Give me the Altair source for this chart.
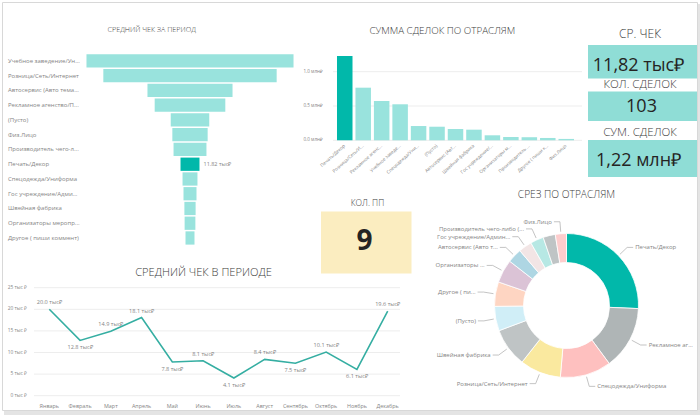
import math
import altair as alt
import pandas as pd

# ---------------- data ----------------
SEL = "Печать/Декор"

funnel_cats = ["Учебное заведение/Университет", "Розница/Сеть/Интернет", "Автосервис (Авто тематика)",
               "Рекламное агенство/Полиграфия", "(Пусто)", "Физ.Лицо", "Производитель чего-либо (товары)",
               "Печать/Декор", "Спецодежда/Униформа", "Гос учреждение/Администрация", "Швейная фабрика",
               "Организаторы мероприятий", "Другое ( пиши коммент)"]
funnel_vals = [129, 108, 53, 44, 24, 22, 20.5, 11.82, 9.3, 8.1, 7.0, 6.7, 5.6]  # тыс ₽

bar_cats = ["Печать/Декор", "Розница/Сеть/Интернет", "Рекламное агенство/Полиграфия",
            "Учебное заведение/Университет", "Спецодежда/Униформа", "(Пусто)", "Автосервис (Авто тематика)",
            "Швейная фабрика", "Гос учреждение/Администрация", "Организаторы мероприятий",
            "Производитель чего-либо (товары)", "Другое ( пиши коммент)", "Физ.Лицо"]
bar_vals = [1.229, 0.767, 0.573, 0.525, 0.208, 0.198, 0.165, 0.155, 0.073, 0.048, 0.045, 0.034, 0.02]  # млн ₽
bar_ticks = [0.0, 0.5, 1.0]

months = ["Январь", "Февраль", "Март", "Апрель", "Май", "Июнь", "Июль", "Август",
          "Сентябрь", "Октябрь", "Ноябрь", "Декабрь"]
month_vals = [20.0, 12.8, 14.9, 18.1, 7.8, 8.1, 4.1, 8.4, 7.5, 10.1, 6.1, 19.6]  # тыс ₽
line_ticks = [0, 5, 10, 15, 20, 25]

donut_cats = ["Печать/Декор", "Рекламное агенство/Полиграфия", "Спецодежда/Униформа", "Розница/Сеть/Интернет",
              "Швейная фабрика", "(Пусто)", "Другое ( пиши коммент)", "Организаторы мероприятий",
              "Автосервис (Авто тематика)", "Гос учреждение/Администрация", "Производитель чего-либо (товары)",
              "Учебное заведение/Университет", "Физ.Лицо"]
donut_labels = ["Печать/Декор", "Рекламное агенс...", "Спецодежда/Униформа", "Розница/Сеть/Интернет",
                "Швейная фабрика", "(Пусто)", "Другое ( пи...", "Организаторы ...", "Автосервис (Авто т...",
                "Гос учреждение/Админ...", "Производитель чего-либо (...", "", "Физ.Лицо"]
donut_vals = [103, 57, 46, 37, 35, 22, 22, 21, 13, 12, 12, 11, 10]
donut_colors = ["#01B8AA", "#AFB5B6", "#FEC0BF", "#FAE99F", "#BFC4C5", "#D0EEF7", "#FED5C2",
                "#DBC3D6", "#AED6E3", "#F2E5E5", "#B7E8E4", "#BFC4C5", "#FDCDCD"]

card_titles = ["СР. ЧЕК", "КОЛ. СДЕЛОК", "СУМ. СДЕЛОК"]
card_values = ["11,82 тыс₽", "103", "1,22 млн₽"]
pp_title = "КОЛ. ПП"
pp_value = "9"

titles = ["СРЕДНИЙ ЧЕК ЗА ПЕРИОД", "СУММА СДЕЛОК ПО ОТРАСЛЯМ", "СРЕДНИЙ ЧЕК В ПЕРИОДЕ", "СРЕЗ ПО ОТРАСЛЯМ"]

# ---------------- style ----------------
FONT = "Open Sans"
TEAL = "#01B8AA"
TEAL_FADED = "#99E3DD"
CARD_TEAL = "#8FDDD6"
CARD_YELLOW = "#FBEDC0"
LABEL_GRAY = "#858585"
TITLE_GRAY = "#3c3c3c"
GRID = "#EDEDED"
ONE = alt.Data(values=[{}])


def text_at(text, x, y, size, color=TITLE_GRAY, align="center", weight=300):
    return alt.Chart(ONE).mark_text(text=text, fontSize=size, font=FONT, color=color, align=align,
                                    baseline="middle", fontWeight=weight).encode(
        x=alt.value(x), y=alt.value(y))


def box(x1, y1, x2, y2, fill, stroke=None):
    kw = dict(fill=fill)
    if stroke:
        kw.update(stroke=stroke, strokeWidth=1)
    return alt.Chart(ONE).mark_rect(**kw).encode(
        x=alt.value(x1), x2=alt.value(x2), y=alt.value(y1), y2=alt.value(y2))


# ---------------- frame ----------------
frame = [box(4, 4, 700, 415, "#E4E4E4"), box(2.5, 2.5, 697.5, 410.5, "#FFFFFF", "#D8D8D8")]

# ---------------- funnel ----------------
funnel_df = pd.DataFrame({"cat": funnel_cats, "v": funnel_vals})
fx = alt.Scale(domain=[-70, 70], range=[77.65, 302.35])
fy = alt.Scale(domain=funnel_cats, range=[53.6, 245.35], paddingInner=0.1, paddingOuter=0.05)
fbase = alt.Chart(funnel_df).transform_calculate(lo="-datum.v/2", hi="datum.v/2")
f_bars = fbase.mark_bar().encode(
    x=alt.X("lo:Q", scale=fx, axis=None), x2="hi:Q",
    y=alt.Y("cat:N", scale=fy, axis=None),
    color=alt.condition(alt.datum.cat == SEL, alt.value(TEAL), alt.value(TEAL_FADED)))
f_lab = fbase.mark_text(align="left", baseline="middle", fontSize=6, font=FONT, color=LABEL_GRAY,
                        limit=73, ellipsis="...").encode(
    x=alt.value(8), y=alt.Y("cat:N", scale=fy, axis=None), text="cat:N")
f_val = fbase.transform_filter(alt.datum.cat == SEL).transform_calculate(
    t="format(datum.v, '.2f') + ' тыс₽'").mark_text(
    align="left", baseline="middle", dx=4, fontSize=5.5, font=FONT, color=LABEL_GRAY).encode(
    x=alt.X("hi:Q", scale=fx, axis=None), y=alt.Y("cat:N", scale=fy, axis=None), text="t:N")
funnel = alt.layer(f_bars, f_lab, f_val)

# ---------------- bar chart ----------------
bar_df = pd.DataFrame({"cat": bar_cats, "v": bar_vals})
btick_df = pd.DataFrame({"tick": bar_ticks})
bx = alt.Scale(domain=bar_cats, range=[335.15, 575.85], paddingInner=0.16, paddingOuter=0.1)
by = alt.Scale(domain=[0, 1.3], range=[140.3, 51.12])
b_grid = alt.Chart(btick_df).mark_rule(color=GRID, strokeWidth=1).encode(
    y=alt.Y("tick:Q", scale=by, axis=None), x=alt.value(333), x2=alt.value(582))
b_tlab = alt.Chart(btick_df).transform_calculate(t="format(datum.tick, '.1f') + ' млн₽'").mark_text(
    align="right", baseline="middle", fontSize=4.6, font=FONT, color=LABEL_GRAY).encode(
    y=alt.Y("tick:Q", scale=by, axis=None), x=alt.value(323), text="t:N")
b_bars = alt.Chart(bar_df).mark_bar().encode(
    x=alt.X("cat:N", scale=bx, axis=None), y=alt.Y("v:Q", scale=by, axis=None),
    color=alt.condition(alt.datum.cat == SEL, alt.value(TEAL), alt.value(TEAL_FADED)))
b_xlab = alt.Chart(bar_df).mark_text(align="right", baseline="middle", angle=318, fontSize=4.6,
                                     font=FONT, color=LABEL_GRAY, limit=42, ellipsis="...").encode(
    x=alt.X("cat:N", scale=bx, axis=None), y=alt.value(145.5), text="cat:N")
bars = alt.layer(b_grid, b_tlab, b_bars, b_xlab)

# ---------------- line chart ----------------
line_df = pd.DataFrame({"idx": list(range(12)), "month": months, "v": month_vals})
ltick_df = pd.DataFrame({"tick": line_ticks})
lx = alt.Scale(type="point", domain=months, range=[49.3, 387.7], padding=0)
ly = alt.Scale(domain=[0, 25], range=[395.7, 287.7])
l_grid = alt.Chart(ltick_df).mark_rule(color=GRID, strokeWidth=1).encode(
    y=alt.Y("tick:Q", scale=ly, axis=None), x=alt.value(34), x2=alt.value(400))
l_tlab = alt.Chart(ltick_df).transform_calculate(t="datum.tick + ' тыс ₽'").mark_text(
    align="right", baseline="middle", fontSize=4.8, font=FONT, color=LABEL_GRAY).encode(
    y=alt.Y("tick:Q", scale=ly, axis=None), x=alt.value(27), text="t:N")
l_mlab = alt.Chart(line_df).mark_text(align="center", baseline="middle", fontSize=5.4, font=FONT,
                                      color=LABEL_GRAY).encode(
    x=alt.X("month:N", scale=lx, axis=None), y=alt.value(405.5), text="month:N")
l_line = alt.Chart(line_df).mark_line(color="#35AEA2", strokeWidth=1.6).encode(
    x=alt.X("month:N", scale=lx, axis=None), y=alt.Y("v:Q", scale=ly, axis=None),
    order="idx:Q")
lbase = alt.Chart(line_df).transform_window(
    prev="lag(v)", nxt="lead(v)", sort=[alt.SortField("idx")]).transform_calculate(
    below="datum.prev != null && datum.nxt != null && datum.v < datum.prev && datum.v < datum.nxt",
    t="format(datum.v, '.1f') + ' тыс₽'")
l_up = lbase.transform_filter("!datum.below").mark_text(
    align="center", baseline="middle", dy=-7, fontSize=5.6, font=FONT, color=LABEL_GRAY).encode(
    x=alt.X("month:N", scale=lx, axis=None), y=alt.Y("v:Q", scale=ly, axis=None), text="t:N")
l_dn = lbase.transform_filter("datum.below").mark_text(
    align="center", baseline="middle", dy=7, fontSize=5.6, font=FONT, color=LABEL_GRAY).encode(
    x=alt.X("month:N", scale=lx, axis=None), y=alt.Y("v:Q", scale=ly, axis=None), text="t:N")
line = alt.layer(l_grid, l_tlab, l_mlab, l_line, l_up, l_dn)

# ---------------- donut ----------------
CX, CY = 566.5, 305.5
donut_df = pd.DataFrame({"idx": list(range(len(donut_cats))), "cat": donut_cats,
                         "label": donut_labels, "v": donut_vals})
dx_s = alt.Scale(domain=[-100, 100], range=[CX - 100, CX + 100])
dy_s = alt.Scale(domain=[-100, 100], range=[CY + 100, CY - 100])
dbase = alt.Chart(donut_df).transform_joinaggregate(total="sum(v)").transform_window(
    cum="sum(v)", sort=[alt.SortField("idx")], frame=[None, 0]).transform_calculate(
    a0="(datum.cum - datum.v) / datum.total * 2 * PI",
    a1="datum.cum / datum.total * 2 * PI",
    mid="(datum.cum - datum.v / 2) / datum.total * 2 * PI")
d_arc = dbase.mark_arc(innerRadius=43, outerRadius=72, stroke="white", strokeWidth=0.8).encode(
    theta=alt.Theta("a0:Q", scale=alt.Scale(domain=[0, 2 * math.pi], range=[0, 2 * math.pi]), stack=None),
    theta2="a1:Q",
    color=alt.Color("cat:N", scale=alt.Scale(domain=donut_cats, range=donut_colors), legend=None),
    x=alt.value(CX), y=alt.value(CY))
lead = dbase.transform_filter("datum.label != ''").transform_calculate(
    s="sin(datum.mid)", c="cos(datum.mid)").transform_calculate(
    side="datum.s >= 0 ? 1 : -1",
    p1x="74 * datum.s", p1y="74 * datum.c",
    p2x="84 * datum.s", p2y="84 * datum.c").transform_calculate(
    p3x="datum.p2x + 6 * datum.side", tx="datum.p2x + 8 * datum.side")
d_seg1 = lead.mark_rule(color="#AAAAAA", strokeWidth=0.7).encode(
    x=alt.X("p1x:Q", scale=dx_s, axis=None), x2="p2x:Q",
    y=alt.Y("p1y:Q", scale=dy_s, axis=None), y2="p2y:Q")
d_seg2 = lead.mark_rule(color="#AAAAAA", strokeWidth=0.7).encode(
    x=alt.X("p2x:Q", scale=dx_s, axis=None), x2="p3x:Q",
    y=alt.Y("p2y:Q", scale=dy_s, axis=None), y2="p2y:Q")
d_txt_r = lead.transform_filter("datum.side > 0").mark_text(
    align="left", baseline="middle", fontSize=6, font=FONT, color=LABEL_GRAY,
    limit=alt.ExprRef(expr=f"{693 - CX} - datum.tx"), ellipsis="...").encode(
    x=alt.X("tx:Q", scale=dx_s, axis=None), y=alt.Y("p2y:Q", scale=dy_s, axis=None), text="label:N")
d_txt_l = lead.transform_filter("datum.side < 0").mark_text(
    align="right", baseline="middle", fontSize=6, font=FONT, color=LABEL_GRAY).encode(
    x=alt.X("tx:Q", scale=dx_s, axis=None), y=alt.Y("p2y:Q", scale=dy_s, axis=None), text="label:N")
donut = alt.layer(d_arc, d_seg1, d_seg2, d_txt_r, d_txt_l)

# ---------------- cards & titles ----------------
cards = [
    text_at(card_titles[0], 640, 33.5, 12),
    box(588, 45, 697, 78.5, CARD_TEAL),
    text_at(card_values[0], 638.5, 66, 18, color="#252423", weight="normal"),
    text_at(card_titles[1], 640, 85, 11.5),
    box(588, 91.5, 697, 121, CARD_TEAL),
    text_at(card_values[1], 641.5, 107, 18, color="#252423", weight="normal"),
    text_at(card_titles[2], 640, 133, 11.5),
    box(588, 140, 697, 177, CARD_TEAL),
    text_at(card_values[2], 638.5, 160.5, 18, color="#252423", weight="normal"),
    text_at(pp_title, 367.5, 202.5, 8.5),
    box(321, 211.5, 411.5, 273.5, CARD_YELLOW),
    text_at(pp_value, 364.5, 242, 28, color="#252423", weight="bold"),
]
title_layers = [
    text_at(titles[0], 151.7, 30, 7.2),
    text_at(titles[1], 442.3, 30.7, 9.8),
    text_at(titles[2], 203.5, 272.5, 11.1),
    text_at(titles[3], 566.5, 195, 10.2),
]

chart = alt.layer(*frame, funnel, bars, line, donut, *cards, *title_layers).resolve_scale(
    x="independent", y="independent", color="independent", theta="independent"
).properties(width=700, height=415, padding=0, autosize="none", background="white"
).configure_view(stroke=None)

chart.save("out.html", embed_options={"renderer": "svg", "actions": False})
